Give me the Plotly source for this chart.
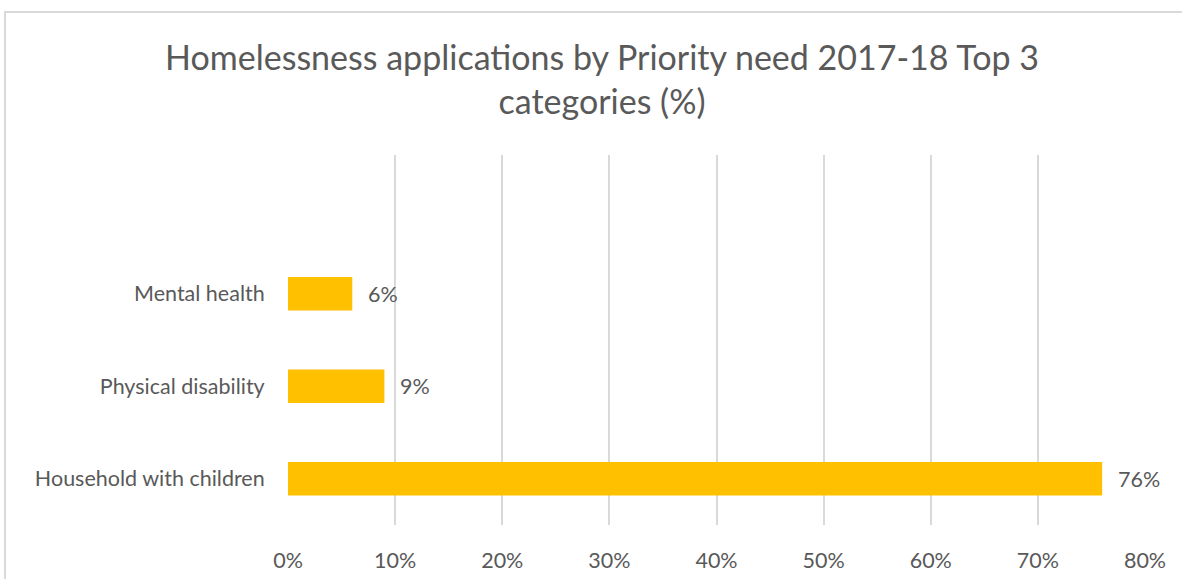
import plotly.graph_objects as go

# Priority need categories, bottom to top
categories = ["Household with children", "Physical disability", "Mental health"]
values = [76, 9, 6]
x_ticks = [0, 10, 20, 30, 40, 50, 60, 70, 80]

title_text = "Homelessness applications by Priority need 2017-18 Top 3<br>categories (%)"

W, H = 1182, 579
L, R, T, B = 288, 37, 155, 54
plot_w = W - L - R
plot_h = H - T - B

text_col = "#595959"
grid_col = "#d9d9d9"
bar_col = "#FFC000"
font_family = "Lato, 'Open Sans', sans-serif"
label_size = 21.5

y_pos = list(range(len(categories)))

fig = go.Figure()
fig.add_trace(go.Bar(
    x=values,
    y=y_pos,
    orientation="h",
    width=0.36,
    marker=dict(color=bar_col, line=dict(width=0)),
    hoverinfo="skip",
))

# value labels next to each bar
for v, y in zip(values, y_pos):
    fig.add_annotation(
        x=v, y=y, xref="x", yref="y",
        text=f"{v}%", showarrow=False,
        xanchor="left", yanchor="middle", xshift=14,
        font=dict(family=font_family, size=label_size, color=text_col),
    )

# light frame around the chart area
def px_to_paper_x(px):
    return (px - L) / plot_w

def px_to_paper_y(py):
    return (H - B - py) / plot_h

fig.add_shape(
    type="rect", xref="paper", yref="paper",
    x0=px_to_paper_x(5), x1=px_to_paper_x(W + 20),
    y0=px_to_paper_y(H + 20), y1=px_to_paper_y(12),
    line=dict(color=grid_col, width=2), fillcolor="rgba(0,0,0,0)",
    layer="below",
)

fig.update_layout(
    width=W, height=H,
    margin=dict(l=L, r=R, t=T, b=B, autoexpand=False),
    paper_bgcolor="white", plot_bgcolor="white",
    showlegend=False,
    title=dict(
        text=title_text,
        x=(W / 2 + 11) / W, xanchor="center",
        y=1 - 70 / H, yanchor="top",
        font=dict(family=font_family, size=34, color=text_col),
    ),
    xaxis=dict(
        range=[0, 80],
        tickvals=x_ticks,
        ticktext=[f"{t}%" for t in x_ticks],
        showgrid=True, gridcolor=grid_col, gridwidth=1.5,
        zeroline=False, showline=False,
        ticks="outside", ticklen=16, tickcolor="rgba(0,0,0,0)",
        tickfont=dict(family=font_family, size=label_size, color=text_col),
        fixedrange=True,
    ),
    yaxis=dict(
        range=[-0.5, 3.5],
        tickvals=y_pos,
        ticktext=categories,
        showgrid=False, zeroline=False, showline=False,
        ticks="outside", ticklen=18, tickcolor="rgba(0,0,0,0)",
        tickfont=dict(family=font_family, size=label_size, color=text_col),
        fixedrange=True,
    ),
)

fig.write_html("out.html")
